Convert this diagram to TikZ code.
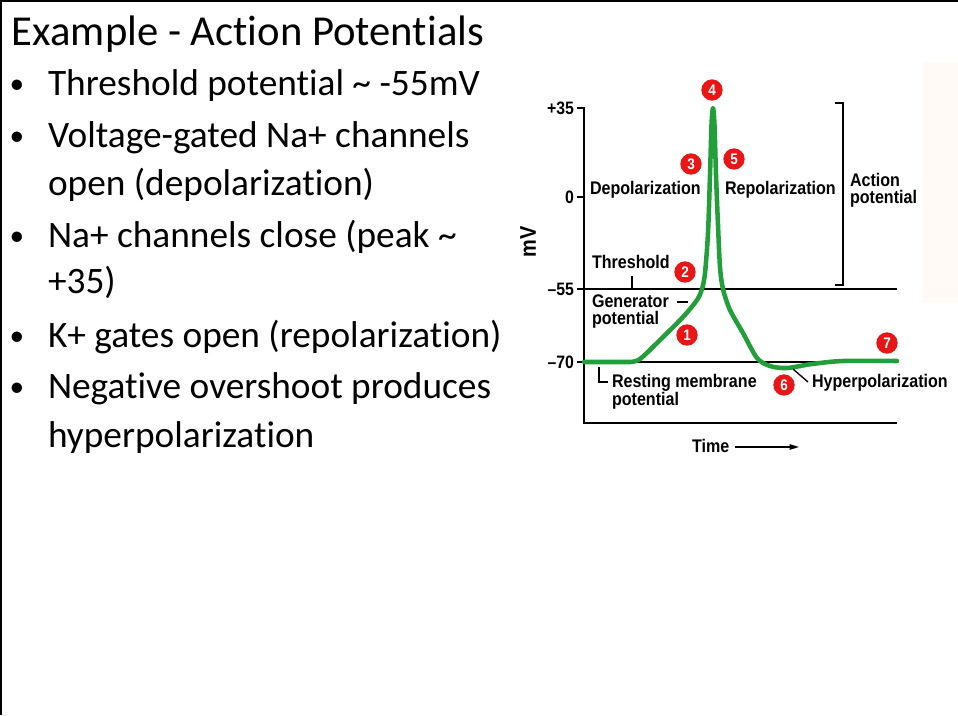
\documentclass[tikz,border=0pt]{standalone}
\usepackage{fontspec}
\setmainfont{Carlito}[Ligatures={NoCommon}]
\newfontfamily\cf[FakeStretch=0.88]{Liberation Sans}
\usetikzlibrary{arrows.meta}
\definecolor{apgreen}{RGB}{34,158,58}
\definecolor{numred}{RGB}{232,22,22}
\definecolor{faint}{RGB}{255,250,245}
\begin{document}
\begin{tikzpicture}[x=0.75pt,y=-0.75pt,
  slide/.style={inner sep=0pt,outer sep=0pt,anchor=base west,font=\fontsize{28}{34}\selectfont},
  ttl/.style={inner sep=0pt,outer sep=0pt,anchor=base west,font=\fontsize{32}{38}\selectfont},
  bul/.style={inner sep=0pt,outer sep=0pt,anchor=base,font=\fontsize{22}{26}\selectfont},
  lab/.style={inner sep=0pt,outer sep=0pt,anchor=base west,font=\cf\bfseries\fontsize{13.7}{15}\selectfont},
  tick/.style={inner sep=0pt,outer sep=0pt,anchor=east,font=\cf\bfseries\fontsize{13.5}{15}\selectfont},
  num/.style={circle,fill=numred,text=white,inner sep=0pt,minimum size=16pt,font=\cf\bfseries\fontsize{11.5}{13}\selectfont},
  ax/.style={line width=1.5pt,black},
  thin/.style={line width=1pt,black}]
\useasboundingbox (0,0) rectangle (958,715);
% frame
\draw[line width=2pt] (1,715) -- (1,1) -- (958,1);
\fill[faint] (923,62) rectangle (958,303);
% slide text
\node[ttl] (title) at (12,45) {Example - Action Potentials};
\node[bul] (b1) at (17,93) {•};
\node[slide] (t1) at (48,95) {Threshold potential \textasciitilde{} -55mV};
\node[bul] (b2) at (17,145) {•};
\node[slide] (t2) at (48,147) {Voltage-gated Na+ channels};
\node[slide] (t2b) at (48,195) {open (depolarization)};
\node[bul] (b3) at (17,245) {•};
\node[slide] (t3) at (48,247) {Na+ channels close (peak \textasciitilde{}};
\node[slide] (t3b) at (48,293) {+35)};
\node[bul] (b4) at (17,345) {•};
\node[slide] (t4) at (48,347) {K+ gates open (repolarization)};
\node[bul] (b5) at (17,396) {•};
\node[slide] (t5) at (48,398) {Negative overshoot produces};
\node[slide] (t5b) at (48,447) {hyperpolarization};
% axes
\draw[ax] (577,108) -- (584,108) -- (584,423) -- (897,423);
\draw[ax] (577,197) -- (584,197);
\draw[ax] (577,289) -- (897,289);
\draw[ax] (577,362) -- (897,362);
\node[tick] (y35) at (574,108) {+35};
\node[tick] (y0) at (574,197) {0};
\node[tick] (y55) at (574,289) {–55};
\node[tick] (y70) at (574,362) {–70};
\node[inner sep=0pt,rotate=90,font=\cf\bfseries\fontsize{17}{19}\selectfont] (mv) at (528,242) {mV};
% bracket
\draw[ax] (835,103) -- (843,103) -- (843,285) -- (835,285);
% curve
\draw[apgreen,line width=3.4pt,line join=round,line cap=round]
  (584,362) -- (630,362)
  plot[smooth,tension=0.5] coordinates {(630,362) (640,359) (660,340) (683,317) (697,300) (702,289) (705,273) (708,233) (710,175) (711.5,125) (713,108) (714.5,125) (716,175) (718,225) (720,267) (723,289) (730,310) (743,333) (757,358) (770,366) (787,368) (812,364) (843,361) (897,361)};
% labels
\node[lab] (dep) at (590,194) {Depolarization};
\node[lab] (rep) at (725,194) {Repolarization};
\node[lab] (act1) at (850,186) {Action};
\node[lab] (act2) at (850,203) {potential};
\node[lab] (thr) at (592,268) {Threshold};
\node[lab] (gen1) at (592,307) {Generator};
\node[lab] (gen2) at (592,324) {potential};
\node[lab] (rest1) at (612,387) {Resting membrane};
\node[lab] (rest2) at (612,405) {potential};
\node[lab] (hyp) at (812,387) {Hyperpolarization};
\node[lab] (time) at (692,452) {Time};
% leaders
\coordinate (thrA) at (632,276); \coordinate (thrB) at (632,289);
\draw[thin] (thrA) -- (thrB);
\coordinate (genA) at (677,302); \coordinate (genB) at (688,302);
\draw[thin] (genA) -- (genB);
\coordinate (restA) at (599,367); \coordinate (restB) at (599,382); \coordinate (restC) at (608,382);
\draw[thin] (restA) -- (restB) -- (restC);
\coordinate (hypA) at (793,369); \coordinate (hypB) at (808,382);
\draw[thin] (hypA) -- (hypB);
\coordinate (tA) at (735,447); \coordinate (tB) at (799,447);
\draw[thin,-{Triangle[length=7pt,width=4pt]}] (tA) -- (tB);
% numbers
\node[num] (n1) at (687,335) {1};
\node[num] (n2) at (685,272) {2};
\node[num] (n3) at (691,164) {3};
\node[num] (n4) at (712,90) {4};
\node[num] (n5) at (734,159) {5};
\node[num] (n6) at (784,385) {6};
\node[num] (n7) at (887,343) {7};
\end{tikzpicture}
\end{document}
